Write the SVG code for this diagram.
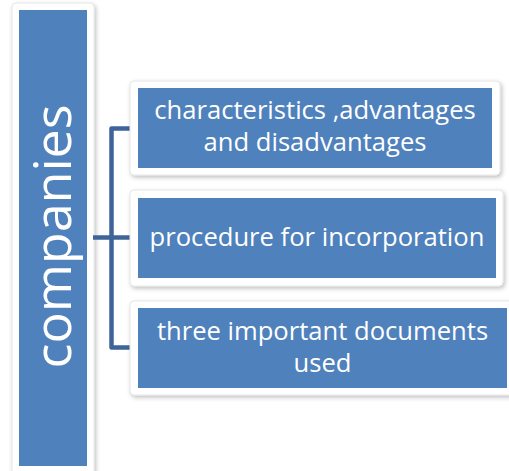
<svg xmlns="http://www.w3.org/2000/svg" width="509" height="471" viewBox="0 0 509 471">
<defs>
<filter id="sh" x="-10%" y="-10%" width="130%" height="130%">
<feDropShadow dx="1.5" dy="2" stdDeviation="2" flood-color="#000" flood-opacity="0.25"/>
</filter>
<style>
.card{fill:#fff;stroke:#e6e6e6;stroke-width:1;filter:url(#sh)}
.blue{fill:#4f81bd}
.t{font-family:"Open Sans","Noto Sans",sans-serif;fill:#fff;text-anchor:middle}
.conn{fill:none;stroke:#3e6499;stroke-width:4.5;stroke-linejoin:round}
</style>
</defs>
<rect width="509" height="471" fill="#fff"/>
<g id="companies">
<rect class="card" x="12" y="3" width="82" height="472" rx="4"/>
<rect class="blue" x="19" y="10" width="68" height="456"/>
<text class="t" font-size="52" transform="translate(71,236.5) rotate(-90)">companies</text>
</g>
<g id="connectors">
<path class="conn" d="M130,128.5 H111.5 V347.5 H130"/>
<path class="conn" d="M93,237.5 H130"/>
</g>
<g id="node1">
<rect class="card" x="130" y="81" width="370" height="94" rx="4"/>
<rect class="blue" x="138" y="88" width="354" height="80"/>
<text class="t" font-size="25.6" x="315" y="119">characteristics ,advantages</text>
<text class="t" font-size="25.6" x="315" y="151">and disadvantages</text>
</g>
<g id="node2">
<rect class="card" x="130" y="190" width="373" height="96" rx="4"/>
<rect class="blue" x="138" y="198" width="358" height="80"/>
<text class="t" font-size="25.6" x="317" y="246">procedure for incorporation</text>
</g>
<g id="node3">
<rect class="card" x="130" y="301" width="385" height="94" rx="4"/>
<rect class="blue" x="138" y="308" width="369" height="80"/>
<text class="t" font-size="25.6" x="322.5" y="340">three important documents</text>
<text class="t" font-size="25.6" x="322.5" y="372">used</text>
</g>
</svg>
